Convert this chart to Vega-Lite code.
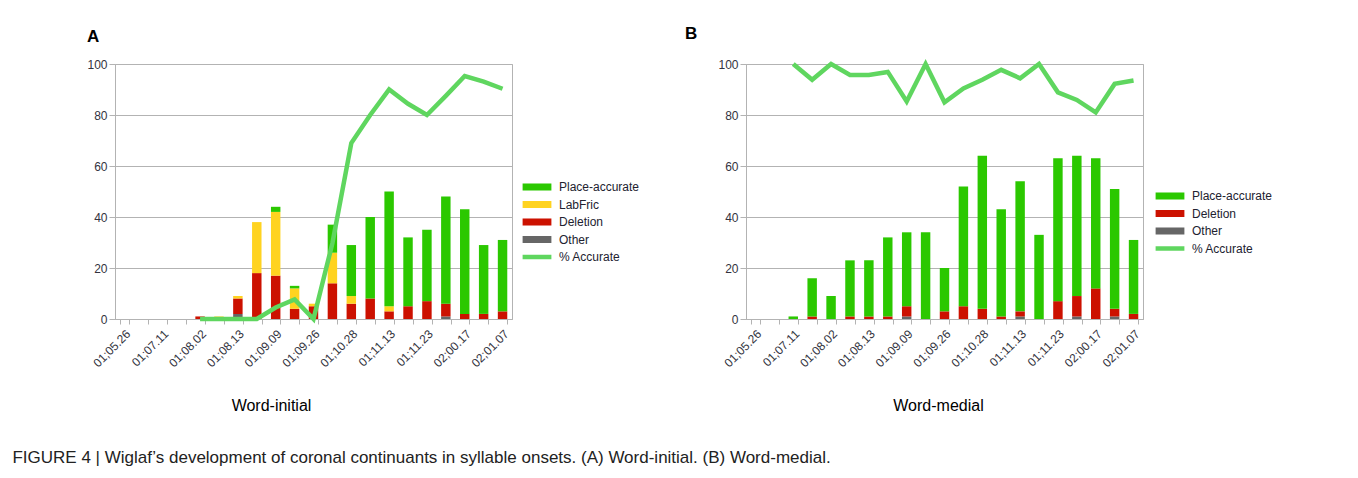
{
  "$schema": "https://vega.github.io/schema/vega-lite/v6.json",
  "autosize": {"type": "pad"},
  "padding": {"left": 12, "top": 24, "right": 5, "bottom": 5},
  "background": "white",
  "config": {
    "font": "Liberation Sans",
    "view": {"stroke": "#b3b3b3", "strokeWidth": 1},
    "axis": {"labelFont": "Liberation Sans", "titleFont": "Liberation Sans"},
    "legend": {"labelFont": "Liberation Sans"}
  },
  "title": {
    "text": "FIGURE 4 | Wiglaf’s development of coronal continuants in syllable onsets. (A) Word-initial. (B) Word-medial.",
    "orient": "bottom",
    "anchor": "start",
    "frame": "bounds",
    "dx": -74,
    "offset": 36,
    "font": "Liberation Sans",
    "fontSize": 17,
    "fontWeight": "normal",
    "color": "#222222"
  },
  "datasets": {
    "barsA": [
      {"s": 5, "series": "Deletion", "k": 2, "n": 1},
      {"s": 6, "series": "LabFric", "k": 3, "n": 1},
      {"s": 7, "series": "Other", "k": 1, "n": 2},
      {"s": 7, "series": "Deletion", "k": 2, "n": 6},
      {"s": 7, "series": "LabFric", "k": 3, "n": 1},
      {"s": 8, "series": "Deletion", "k": 2, "n": 18},
      {"s": 8, "series": "LabFric", "k": 3, "n": 20},
      {"s": 9, "series": "Deletion", "k": 2, "n": 17},
      {"s": 9, "series": "LabFric", "k": 3, "n": 25},
      {"s": 9, "series": "Place-accurate", "k": 4, "n": 2},
      {"s": 10, "series": "Deletion", "k": 2, "n": 4},
      {"s": 10, "series": "LabFric", "k": 3, "n": 8},
      {"s": 10, "series": "Place-accurate", "k": 4, "n": 1},
      {"s": 11, "series": "Deletion", "k": 2, "n": 5},
      {"s": 11, "series": "LabFric", "k": 3, "n": 1},
      {"s": 12, "series": "Deletion", "k": 2, "n": 14},
      {"s": 12, "series": "LabFric", "k": 3, "n": 12},
      {"s": 12, "series": "Place-accurate", "k": 4, "n": 11},
      {"s": 13, "series": "Deletion", "k": 2, "n": 6},
      {"s": 13, "series": "LabFric", "k": 3, "n": 3},
      {"s": 13, "series": "Place-accurate", "k": 4, "n": 20},
      {"s": 14, "series": "Deletion", "k": 2, "n": 8},
      {"s": 14, "series": "Place-accurate", "k": 4, "n": 32},
      {"s": 15, "series": "Deletion", "k": 2, "n": 3},
      {"s": 15, "series": "LabFric", "k": 3, "n": 2},
      {"s": 15, "series": "Place-accurate", "k": 4, "n": 45},
      {"s": 16, "series": "Deletion", "k": 2, "n": 5},
      {"s": 16, "series": "Place-accurate", "k": 4, "n": 27},
      {"s": 17, "series": "Deletion", "k": 2, "n": 7},
      {"s": 17, "series": "Place-accurate", "k": 4, "n": 28},
      {"s": 18, "series": "Other", "k": 1, "n": 1},
      {"s": 18, "series": "Deletion", "k": 2, "n": 5},
      {"s": 18, "series": "Place-accurate", "k": 4, "n": 42},
      {"s": 19, "series": "Deletion", "k": 2, "n": 2},
      {"s": 19, "series": "Place-accurate", "k": 4, "n": 41},
      {"s": 20, "series": "Deletion", "k": 2, "n": 2},
      {"s": 20, "series": "Place-accurate", "k": 4, "n": 27},
      {"s": 21, "series": "Deletion", "k": 2, "n": 3},
      {"s": 21, "series": "Place-accurate", "k": 4, "n": 28}
    ],
    "lineA": [
      {"s": 5, "pct": 0}, {"s": 6, "pct": 0}, {"s": 7, "pct": 0}, {"s": 8, "pct": 0},
      {"s": 9, "pct": 4.5}, {"s": 10, "pct": 7.7}, {"s": 11, "pct": 0}, {"s": 12, "pct": 29.7},
      {"s": 13, "pct": 69.0}, {"s": 14, "pct": 80.0}, {"s": 15, "pct": 90.0}, {"s": 16, "pct": 84.4},
      {"s": 17, "pct": 80.0}, {"s": 18, "pct": 87.5}, {"s": 19, "pct": 95.3}, {"s": 20, "pct": 93.1},
      {"s": 21, "pct": 90.3}
    ],
    "barsB": [
      {"s": 3, "series": "Place-accurate", "k": 4, "n": 1},
      {"s": 4, "series": "Deletion", "k": 2, "n": 1},
      {"s": 4, "series": "Place-accurate", "k": 4, "n": 15},
      {"s": 5, "series": "Place-accurate", "k": 4, "n": 9},
      {"s": 6, "series": "Deletion", "k": 2, "n": 1},
      {"s": 6, "series": "Place-accurate", "k": 4, "n": 22},
      {"s": 7, "series": "Deletion", "k": 2, "n": 1},
      {"s": 7, "series": "Place-accurate", "k": 4, "n": 22},
      {"s": 8, "series": "Deletion", "k": 2, "n": 1},
      {"s": 8, "series": "Place-accurate", "k": 4, "n": 31},
      {"s": 9, "series": "Other", "k": 1, "n": 1},
      {"s": 9, "series": "Deletion", "k": 2, "n": 4},
      {"s": 9, "series": "Place-accurate", "k": 4, "n": 29},
      {"s": 10, "series": "Place-accurate", "k": 4, "n": 34},
      {"s": 11, "series": "Deletion", "k": 2, "n": 3},
      {"s": 11, "series": "Place-accurate", "k": 4, "n": 17},
      {"s": 12, "series": "Deletion", "k": 2, "n": 5},
      {"s": 12, "series": "Place-accurate", "k": 4, "n": 47},
      {"s": 13, "series": "Deletion", "k": 2, "n": 4},
      {"s": 13, "series": "Place-accurate", "k": 4, "n": 60},
      {"s": 14, "series": "Deletion", "k": 2, "n": 1},
      {"s": 14, "series": "Place-accurate", "k": 4, "n": 42},
      {"s": 15, "series": "Other", "k": 1, "n": 1},
      {"s": 15, "series": "Deletion", "k": 2, "n": 2},
      {"s": 15, "series": "Place-accurate", "k": 4, "n": 51},
      {"s": 16, "series": "Place-accurate", "k": 4, "n": 33},
      {"s": 17, "series": "Deletion", "k": 2, "n": 7},
      {"s": 17, "series": "Place-accurate", "k": 4, "n": 56},
      {"s": 18, "series": "Other", "k": 1, "n": 1},
      {"s": 18, "series": "Deletion", "k": 2, "n": 8},
      {"s": 18, "series": "Place-accurate", "k": 4, "n": 55},
      {"s": 19, "series": "Deletion", "k": 2, "n": 12},
      {"s": 19, "series": "Place-accurate", "k": 4, "n": 51},
      {"s": 20, "series": "Other", "k": 1, "n": 1},
      {"s": 20, "series": "Deletion", "k": 2, "n": 3},
      {"s": 20, "series": "Place-accurate", "k": 4, "n": 47},
      {"s": 21, "series": "Deletion", "k": 2, "n": 2},
      {"s": 21, "series": "Place-accurate", "k": 4, "n": 29}
    ],
    "lineB": [
      {"s": 3, "pct": 100}, {"s": 4, "pct": 93.8}, {"s": 5, "pct": 100}, {"s": 6, "pct": 95.7},
      {"s": 7, "pct": 95.7}, {"s": 8, "pct": 96.9}, {"s": 9, "pct": 85.3}, {"s": 10, "pct": 100},
      {"s": 11, "pct": 85.0}, {"s": 12, "pct": 90.4}, {"s": 13, "pct": 93.8}, {"s": 14, "pct": 97.7},
      {"s": 15, "pct": 94.4}, {"s": 16, "pct": 100}, {"s": 17, "pct": 88.9}, {"s": 18, "pct": 85.9},
      {"s": 19, "pct": 81.0}, {"s": 20, "pct": 92.2}, {"s": 21, "pct": 93.5}
    ]
  },
  "spacing": 43,
  "resolve": {"scale": {"color": "independent"}, "legend": {"color": "independent"}},
  "hconcat": [
    {
      "width": 397,
      "height": 255,
      "title": {"text": "A", "anchor": "start", "dx": 0, "offset": 12, "fontSize": 17, "fontWeight": "bold", "color": "#000000"},
      "layer": [
        {
          "data": {"name": "barsA"},
          "mark": {"type": "bar"},
          "encoding": {
            "x": {
              "field": "s", "type": "ordinal",
              "scale": {"domain": [1,2,3,4,5,6,7,8,9,10,11,12,13,14,15,16,17,18,19,20,21], "paddingInner": 0.5, "paddingOuter": 0.25},
              "axis": {
                "labelExpr": "['01;05.26','','01;07.11','','01;08.02','','01;08.13','','01;09.09','','01;09.26','','01;10.28','','01;11.13','','01;11.23','','02;00.17','','02;01.07'][datum.value-1]",
                "labelAngle": -45, "labelFontSize": 12, "labelColor": "#333340", "labelPadding": 4,
                "domainColor": "#b3b3b3", "tickColor": "#b3b3b3", "tickBand": "extent", "tickSize": 5,
                "grid": false,
                "title": "Word-initial", "titleFontSize": 16, "titleFontWeight": "normal", "titleColor": "#000000",
                "titleX": 156, "titleY": 91, "titleBaseline": "alphabetic", "titleAlign": "center"
              }
            },
            "y": {
              "field": "n", "type": "quantitative", "stack": "zero",
              "scale": {"domain": [0, 100], "nice": false},
              "axis": {
                "values": [0, 20, 40, 60, 80, 100], "title": null,
                "labelFontSize": 12, "labelColor": "#333340", "labelPadding": 2,
                "domainColor": "#b3b3b3", "tickColor": "#b3b3b3", "tickSize": 6,
                "grid": true, "gridColor": "#b3b3b3"
              }
            },
            "color": {
              "field": "series", "type": "nominal",
              "scale": {"domain": ["Place-accurate", "LabFric", "Deletion", "Other", "% Accurate"], "range": ["#2bc800", "#ffd320", "#cc1100", "#666666", "#5fd65f"]},
              "legend": {
                "title": null, "orient": "none", "legendX": 413, "legendY": 114,
                "symbolType": "M-1.6,-0.39H1.6V0.39H-1.6Z", "symbolSize": 324, "symbolStrokeWidth": 0,
                "labelFontSize": 12, "labelColor": "#222230", "labelOffset": 13, "rowPadding": 2.5,
                "encode": {
                  "symbols": {"update": {
                    "shape": {"signal": "datum.value === '% Accurate' ? 'M-1.6,-0.25H1.6V0.25H-1.6Z' : 'M-1.6,-0.39H1.6V0.39H-1.6Z'"},
                    "fill": {"signal": "datum.value === 'Place-accurate' ? '#2bc800' : datum.value === 'LabFric' ? '#ffd320' : datum.value === 'Deletion' ? '#cc1100' : datum.value === 'Other' ? '#666666' : '#5fd65f'"},
                    "stroke": {"value": "transparent"},
                    "opacity": {"value": 1}
                  }}
                }
              }
            },
            "order": {"field": "k", "type": "quantitative"}
          }
        },
        {
          "data": {"name": "lineA"},
          "mark": {"type": "line", "strokeWidth": 4.5},
          "encoding": {
            "x": {"field": "s", "type": "ordinal"},
            "y": {"field": "pct", "type": "quantitative"},
            "color": {"datum": "% Accurate"}
          }
        }
      ]
    },
    {
      "width": 397,
      "height": 255,
      "title": {"text": "B", "anchor": "start", "dx": -33, "offset": 12, "fontSize": 17, "fontWeight": "bold", "color": "#000000"},
      "layer": [
        {
          "data": {"name": "barsB"},
          "mark": {"type": "bar"},
          "encoding": {
            "x": {
              "field": "s", "type": "ordinal",
              "scale": {"domain": [1,2,3,4,5,6,7,8,9,10,11,12,13,14,15,16,17,18,19,20,21], "paddingInner": 0.5, "paddingOuter": 0.25},
              "axis": {
                "labelExpr": "['01;05.26','','01;07.11','','01;08.02','','01;08.13','','01;09.09','','01;09.26','','01;10.28','','01;11.13','','01;11.23','','02;00.17','','02;01.07'][datum.value-1]",
                "labelAngle": -45, "labelFontSize": 12, "labelColor": "#333340", "labelPadding": 4,
                "domainColor": "#b3b3b3", "tickColor": "#b3b3b3", "tickBand": "extent", "tickSize": 5,
                "grid": false,
                "title": "Word-medial", "titleFontSize": 16, "titleFontWeight": "normal", "titleColor": "#000000",
                "titleX": 192, "titleY": 91, "titleBaseline": "alphabetic", "titleAlign": "center"
              }
            },
            "y": {
              "field": "n", "type": "quantitative", "stack": "zero",
              "scale": {"domain": [0, 100], "nice": false},
              "axis": {
                "values": [0, 20, 40, 60, 80, 100], "title": null,
                "labelFontSize": 12, "labelColor": "#333340", "labelPadding": 2,
                "domainColor": "#b3b3b3", "tickColor": "#b3b3b3", "tickSize": 6,
                "grid": true, "gridColor": "#b3b3b3"
              }
            },
            "color": {
              "field": "series", "type": "nominal",
              "scale": {"domain": ["Place-accurate", "Deletion", "Other", "% Accurate"], "range": ["#2bc800", "#cc1100", "#666666", "#5fd65f"]},
              "legend": {
                "title": null, "orient": "none", "legendX": 415, "legendY": 123,
                "symbolType": "M-1.6,-0.39H1.6V0.39H-1.6Z", "symbolSize": 324, "symbolStrokeWidth": 0,
                "labelFontSize": 12, "labelColor": "#222230", "labelOffset": 13, "rowPadding": 2.5,
                "encode": {
                  "symbols": {"update": {
                    "shape": {"signal": "datum.value === '% Accurate' ? 'M-1.6,-0.25H1.6V0.25H-1.6Z' : 'M-1.6,-0.39H1.6V0.39H-1.6Z'"},
                    "fill": {"signal": "datum.value === 'Place-accurate' ? '#2bc800' : datum.value === 'Deletion' ? '#cc1100' : datum.value === 'Other' ? '#666666' : '#5fd65f'"},
                    "stroke": {"value": "transparent"},
                    "opacity": {"value": 1}
                  }}
                }
              }
            },
            "order": {"field": "k", "type": "quantitative"}
          }
        },
        {
          "data": {"name": "lineB"},
          "mark": {"type": "line", "strokeWidth": 4.5},
          "encoding": {
            "x": {"field": "s", "type": "ordinal"},
            "y": {"field": "pct", "type": "quantitative"},
            "color": {"datum": "% Accurate"}
          }
        }
      ]
    }
  ]
}
